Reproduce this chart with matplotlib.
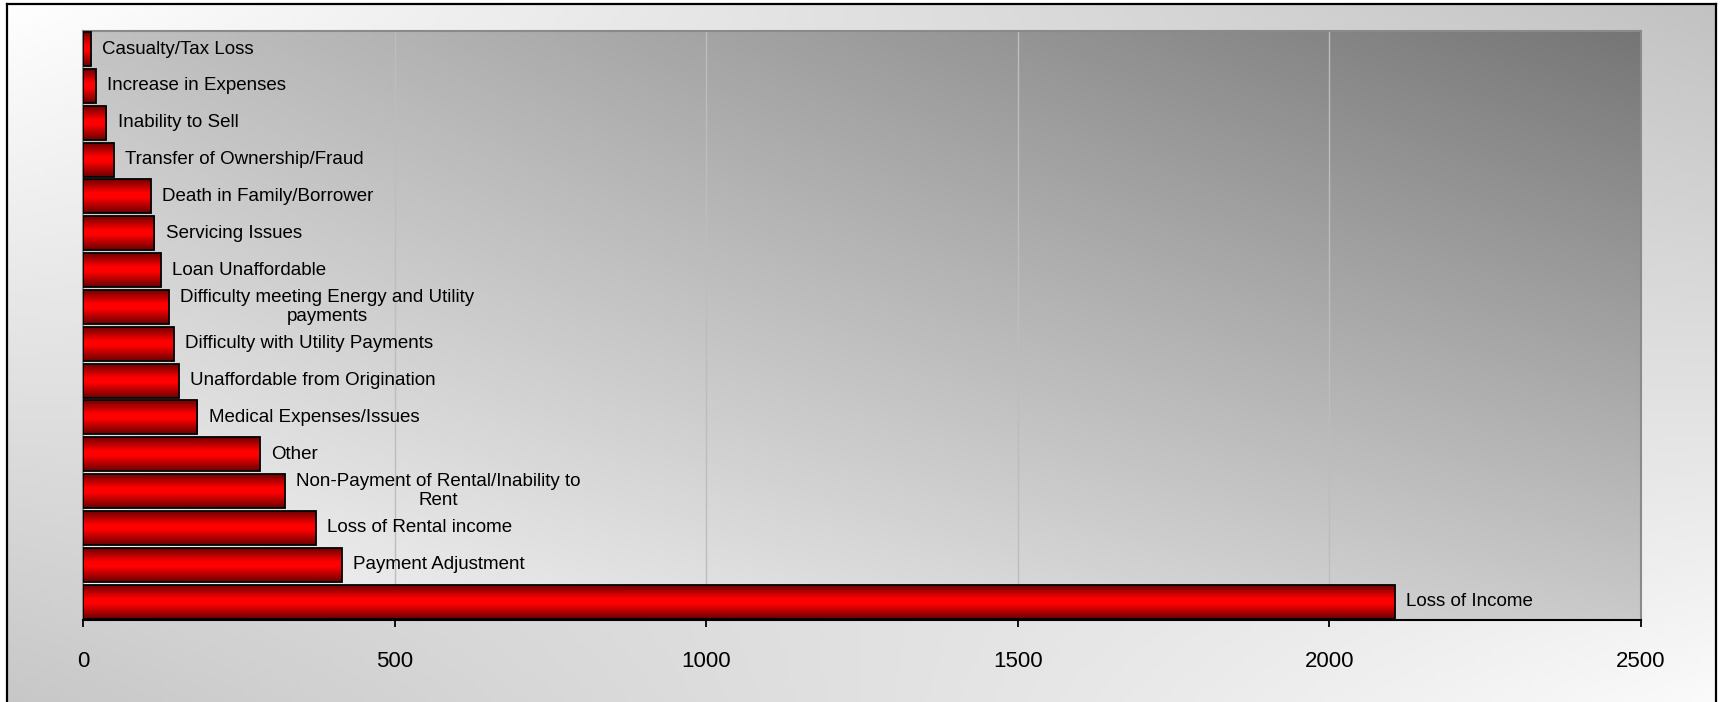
import numpy as np
import matplotlib
matplotlib.use("Agg")
import matplotlib.pyplot as plt
from matplotlib.colors import LinearSegmentedColormap

plt.rcParams['font.family'] = ['Liberation Sans', 'DejaVu Sans']

# categories listed top to bottom as in the chart
reasons = ["Casualty/Tax Loss",
           "Increase in Expenses",
           "Inability to Sell",
           "Transfer of Ownership/Fraud",
           "Death in Family/Borrower",
           "Servicing Issues",
           "Loan Unaffordable",
           "Difficulty meeting Energy and Utility\npayments",
           "Difficulty with Utility Payments",
           "Unaffordable from Origination",
           "Medical Expenses/Issues",
           "Other",
           "Non-Payment of Rental/Inability to\nRent",
           "Loss of Rental income",
           "Payment Adjustment",
           "Loss of Income"]
counts = [12, 20, 37, 49, 109, 114, 125, 137, 146, 154, 183, 284, 324, 373, 415, 2105]
xticks = [0, 500, 1000, 1500, 2000, 2500]


def bilinear(tl, tr, bl, br, ny=200, nx=400):
    # grey ramp from four corner values (row 0 = top)
    u = np.linspace(0, 1, nx)[None, :]
    v = np.linspace(0, 1, ny)[:, None]
    top = tl + (tr - tl) * u
    bot = bl + (br - bl) * u
    g = top + (bot - top) * v
    return np.dstack([g, g, g])


fig = plt.figure(figsize=(17.22, 7.02), dpi=100)
fig.patch.set_facecolor("white")

# outer frame with its own gradient
bg = fig.add_axes([7.3 / 1722, -0.01, (1716 - 7.3) / 1722, 1 - 4 / 702 + 0.01], zorder=-5)
bg.imshow(bilinear(1.0, 0.76, 0.78, 0.985), extent=[0, 1, 0, 1], aspect="auto")
bg.set_xticks([])
bg.set_yticks([])
for s in bg.spines.values():
    s.set_color("black")
    s.set_linewidth(1.6)

ax = fig.add_axes([83.4 / 1722, 1 - 620 / 702, (1641 - 83.4) / 1722, (620 - 30.7) / 702])
ax.set_facecolor("none")
ax.imshow(bilinear(0.76, 0.46, 0.965, 0.79), extent=[0, 1, 0, 1],
          transform=ax.transAxes, aspect="auto", zorder=0)

n = len(reasons)
ypos = np.arange(n)[::-1]
bars = ax.barh(ypos, counts, height=0.92, color="none", edgecolor="black",
               linewidth=1.3, zorder=4)

red = LinearSegmentedColormap.from_list(
    "bar", [(0.0, "#6a0000"), (0.45, "#ff0000"), (0.6, "#ff0000"), (1.0, "#700000")])
grad = red(np.linspace(0, 1, 64))[:, :3][:, None, :]
for b in bars:
    x0, y0 = b.get_x(), b.get_y()
    ax.imshow(grad, extent=[x0, x0 + b.get_width(), y0, y0 + b.get_height()],
              origin="lower", aspect="auto", zorder=3, interpolation="bilinear")

for y, c, lab in zip(ypos, counts, reasons):
    ax.annotate(lab, (c, y), xytext=(8, 0), textcoords="offset points",
                ha="left", va="center", multialignment="center",
                fontsize=13.5, color="black", zorder=5)

ax.set_xlim(0, 2500)
ax.set_ylim(-0.5, n - 0.5)
ax.set_xticks(xticks)
ax.set_xticklabels([str(t) for t in xticks], fontsize=16)
ax.set_yticks([])
ax.tick_params(axis="x", direction="out", length=5, width=1.3, pad=17, colors="black")
ax.grid(axis="x", color="#bdbdbd", linewidth=1.0, zorder=1)
ax.set_axisbelow(True)

ax.spines["bottom"].set_color("black")
ax.spines["bottom"].set_linewidth(1.5)
for side in ["left", "top", "right"]:
    ax.spines[side].set_color("#8a8a8a")
    ax.spines[side].set_linewidth(1.5)

fig.savefig("out.png", dpi=100)
